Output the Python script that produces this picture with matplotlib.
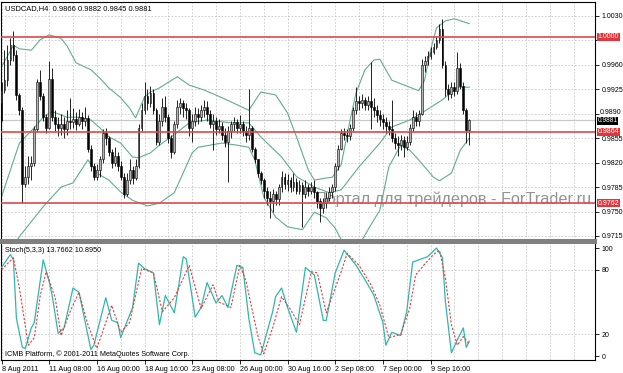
import numpy as np
import matplotlib
matplotlib.use("Agg")
import matplotlib.pyplot as plt
from matplotlib.transforms import offset_copy

plt.rcParams["font.family"] = ["Liberation Sans", "DejaVu Sans"]

# USDCAD H4 candles (close / high / low); open of each bar is previous close
first_open = 0.9905
close = [
    0.9924, 0.9938, 0.9967, 0.9988, 0.9974, 0.9917, 0.9895, 0.9790, 0.9800, 0.9815,
    0.9820, 0.9868, 0.9935, 0.9915, 0.9885, 0.9870, 0.9940, 0.9885, 0.9875, 0.9870,
    0.9875, 0.9868, 0.9880, 0.9878, 0.9882, 0.9876, 0.9885, 0.9880, 0.9884, 0.9840,
    0.9815, 0.9800, 0.9810, 0.9825, 0.9862, 0.9855, 0.9835, 0.9820, 0.9830, 0.9815,
    0.9800, 0.9775, 0.9795, 0.9810, 0.9798, 0.9815, 0.9870, 0.9895, 0.9915, 0.9905,
    0.9920, 0.9895, 0.9850, 0.9880, 0.9900, 0.9885, 0.9855, 0.9835, 0.9875, 0.9900,
    0.9905, 0.9898, 0.9895, 0.9870, 0.9880, 0.9890, 0.9885, 0.9895, 0.9900, 0.9890,
    0.9875, 0.9880, 0.9868, 0.9872, 0.9860, 0.9850, 0.9865, 0.9875, 0.9878, 0.9870,
    0.9875, 0.9865, 0.9860, 0.9870, 0.9840, 0.9825, 0.9805, 0.9795, 0.9780, 0.9770,
    0.9765, 0.9775, 0.9768, 0.9785, 0.9800, 0.9790, 0.9795, 0.9785, 0.9792, 0.9780,
    0.9788, 0.9775, 0.9785, 0.9780, 0.9785, 0.9778, 0.9765, 0.9755, 0.9762, 0.9770,
    0.9778, 0.9785, 0.9815, 0.9840, 0.9862, 0.9860, 0.9858, 0.9870, 0.9895, 0.9908,
    0.9905, 0.9910, 0.9902, 0.9908, 0.9900, 0.9895, 0.9888, 0.9882, 0.9878, 0.9872,
    0.9868, 0.9855, 0.9848, 0.9845, 0.9852, 0.9842, 0.9850, 0.9870, 0.9885, 0.9880,
    0.9890, 0.9960, 0.9965, 0.9972, 0.9978, 0.9985, 0.9995, 1.0012, 0.9960, 0.9925,
    0.9918, 0.9928, 0.9922, 0.9955, 0.9930, 0.9895, 0.9866, 0.9881,
]
high = [
    0.9935, 0.9981, 0.9988, 0.9998, 1.0008, 0.9981, 0.9920, 0.9900, 0.9815, 0.9830,
    0.9830, 0.9872, 0.9940, 0.9952, 0.9920, 0.9890, 0.9966, 0.9955, 0.9895, 0.9885,
    0.9890, 0.9885, 0.9895, 0.9912, 0.9898, 0.9892, 0.9897, 0.9893, 0.9900, 0.9888,
    0.9845, 0.9820, 0.9818, 0.9830, 0.9868, 0.9870, 0.9858, 0.9840, 0.9842, 0.9835,
    0.9822, 0.9805, 0.9805, 0.9825, 0.9815, 0.9825, 0.9875, 0.9905, 0.9935, 0.9925,
    0.9930, 0.9925, 0.9898, 0.9890, 0.9912, 0.9915, 0.9890, 0.9860, 0.9880, 0.9910,
    0.9912, 0.9910, 0.9905, 0.9898, 0.9890, 0.9900, 0.9898, 0.9902, 0.9910, 0.9908,
    0.9895, 0.9890, 0.9885, 0.9882, 0.9878, 0.9870, 0.9872, 0.9880, 0.9885, 0.9882,
    0.9888, 0.9880, 0.9872, 0.9925, 0.9872, 0.9842, 0.9825, 0.9808, 0.9798, 0.9785,
    0.9780, 0.9782, 0.9780, 0.9790, 0.9808, 0.9805, 0.9803, 0.9800, 0.9805, 0.9798,
    0.9795, 0.9792, 0.9795, 0.9790, 0.9792, 0.9795, 0.9780, 0.9770, 0.9770, 0.9778,
    0.9785, 0.9790, 0.9820, 0.9845, 0.9868, 0.9870, 0.9868, 0.9875, 0.9900, 0.9928,
    0.9915, 0.9918, 0.9914, 0.9916, 0.9964, 0.9912, 0.9902, 0.9895, 0.9890, 0.9885,
    0.9880, 0.9910, 0.9862, 0.9858, 0.9860, 0.9858, 0.9858, 0.9875, 0.9895, 0.9892,
    0.9895, 0.9968, 0.9972, 0.9980, 0.9985, 0.9992, 1.0000, 1.0018, 1.0026, 0.9965,
    0.9932, 0.9935, 0.9935, 0.9978, 0.9962, 0.9935, 0.9898, 0.9882,
]
low = [
    0.9880, 0.9920, 0.9930, 0.9960, 0.9965, 0.9910, 0.9888, 0.9762, 0.9785, 0.9790,
    0.9795, 0.9815, 0.9865, 0.9910, 0.9880, 0.9862, 0.9868, 0.9880, 0.9865, 0.9858,
    0.9860, 0.9855, 0.9860, 0.9868, 0.9870, 0.9866, 0.9872, 0.9868, 0.9873, 0.9835,
    0.9808, 0.9795, 0.9795, 0.9800, 0.9820, 0.9845, 0.9830, 0.9812, 0.9815, 0.9808,
    0.9795, 0.9770, 0.9772, 0.9790, 0.9790, 0.9795, 0.9812, 0.9865, 0.9890, 0.9895,
    0.9900, 0.9890, 0.9845, 0.9845, 0.9872, 0.9878, 0.9848, 0.9826, 0.9832, 0.9870,
    0.9890, 0.9885, 0.9882, 0.9858, 0.9850, 0.9872, 0.9875, 0.9880, 0.9885, 0.9880,
    0.9870, 0.9838, 0.9860, 0.9862, 0.9852, 0.9842, 0.9792, 0.9855, 0.9865, 0.9862,
    0.9862, 0.9858, 0.9850, 0.9852, 0.9835, 0.9820, 0.9800, 0.9790, 0.9770, 0.9760,
    0.9740, 0.9750, 0.9760, 0.9760, 0.9778, 0.9782, 0.9780, 0.9778, 0.9780, 0.9775,
    0.9775, 0.9728, 0.9770, 0.9772, 0.9775, 0.9770, 0.9755, 0.9735, 0.9748, 0.9755,
    0.9765, 0.9770, 0.9780, 0.9810, 0.9838, 0.9852, 0.9850, 0.9852, 0.9865, 0.9890,
    0.9895, 0.9898, 0.9895, 0.9896, 0.9868, 0.9885, 0.9878, 0.9872, 0.9868, 0.9862,
    0.9860, 0.9850, 0.9840, 0.9830, 0.9838, 0.9828, 0.9838, 0.9845, 0.9865, 0.9872,
    0.9872, 0.9888, 0.9950, 0.9960, 0.9968, 0.9975, 0.9982, 0.9992, 0.9955, 0.9915,
    0.9910, 0.9912, 0.9915, 0.9918, 0.9925, 0.9890, 0.9848, 0.9845,
]

# Bollinger bands, read at selected bars
upper_bar = [0, 4, 6, 10, 13, 16, 20, 22, 25, 30, 33, 36, 40, 43, 45, 48, 50, 53, 56, 59,
             63, 68, 74, 79, 83, 87, 92, 96, 99, 103, 105, 109, 111, 114, 117, 119, 122, 125,
             127, 131, 137, 140, 142, 144, 146, 149, 152, 157]
upper_val = [0.9957, 0.9988, 0.9983, 0.9981, 0.9996, 1.0003, 0.9998, 0.9987, 0.9963, 0.9953,
             0.9941, 0.9927, 0.9913, 0.9898, 0.9884, 0.9914, 0.9921, 0.9927, 0.9935, 0.9943,
             0.9931, 0.9924, 0.9913, 0.9903, 0.9895, 0.9921, 0.9917, 0.9891, 0.9857, 0.9809,
             0.9795, 0.9798, 0.9799, 0.9817, 0.9881, 0.9920, 0.9953, 0.9967, 0.9968, 0.9938,
             0.9928, 0.9923, 0.9938, 0.9981, 1.0013, 1.0023, 1.0026, 1.0019]
middle_bar = [0, 6, 11, 14, 17, 22, 26, 30, 33, 36, 40, 44, 46, 50, 53, 58, 63, 69, 77, 83,
              87, 94, 99, 105, 110, 114, 120, 127, 131, 137, 141, 148, 153, 157]
middle_val = [0.9771, 0.9848, 0.9870, 0.9885, 0.9893, 0.9885, 0.9885, 0.9881, 0.9870, 0.9857,
              0.9848, 0.9828, 0.9827, 0.9834, 0.9845, 0.9860, 0.9877, 0.9881, 0.9877, 0.9877,
              0.9857, 0.9828, 0.9800, 0.9785, 0.9777, 0.9781, 0.9814, 0.9848, 0.9871, 0.9881,
              0.9891, 0.9910, 0.9928, 0.9928]
lower_bar = [1, 6, 14, 20, 24, 29, 32, 36, 40, 44, 49, 53, 58, 64, 66, 74, 79, 83, 85, 88,
             92, 96, 101, 105, 109, 112, 115, 118, 121, 124, 127, 130, 134, 137, 140, 145,
             147, 151, 154, 157]
lower_val = [0.9681, 0.9714, 0.9757, 0.9785, 0.9791, 0.9824, 0.9805, 0.9795, 0.9778, 0.9766,
             0.9758, 0.9762, 0.9777, 0.9834, 0.9842, 0.9848, 0.9845, 0.9842, 0.9824, 0.9771,
             0.9742, 0.9728, 0.9724, 0.9749, 0.9741, 0.9726, 0.9702, 0.9688, 0.9709, 0.9731,
             0.9752, 0.9814, 0.9845, 0.9838, 0.9824, 0.9799, 0.9794, 0.9805, 0.9838, 0.9855]

# Stochastic (5,3,3)
k_bar = [0, 3, 4, 5, 7, 8, 10, 11, 14, 16, 17, 19, 21, 24, 26, 30, 31, 35, 37, 39, 40, 42,
         44, 46, 48, 51, 53, 55, 58, 61, 62, 65, 67, 69, 72, 74, 76, 79, 81, 83, 85, 87, 91,
         92, 94, 96, 99, 102, 105, 108, 109, 112, 115, 119, 123, 125, 128, 129, 131, 134,
         136, 138, 140, 143, 146, 148, 149, 151, 153, 155, 156, 157]
k_val = [82, 94, 89, 35, 8, 7, 26, 31, 89, 69, 56, 21, 26, 63, 59, 6, 10, 54, 33, 31, 17, 31,
         45, 86, 81, 77, 29, 56, 40, 92, 90, 36, 45, 68, 49, 56, 45, 84, 82, 35, 3, 1, 41,
         55, 63, 45, 22, 82, 75, 33, 33, 77, 98, 84, 66, 56, 31, 10, 22, 19, 41, 87, 89, 92,
         100, 91, 50, 3, 15, 26, 8, 13.77]
d_bar = [0, 4, 6, 9, 11, 13, 15, 18, 20, 23, 26, 29, 32, 35, 37, 40, 43, 47, 51, 54, 58, 63,
         67, 71, 73, 77, 80, 82, 86, 88, 91, 94, 97, 100, 104, 106, 109, 114, 116, 120, 124,
         127, 130, 134, 137, 139, 142, 145, 147, 149, 151, 153, 155, 157]
d_val = [80, 91, 63, 10, 17, 56, 78, 54, 19, 41, 59, 29, 7, 31, 47, 22, 31, 81, 77, 41, 54,
         84, 44, 66, 50, 45, 84, 70, 19, 2, 26, 55, 43, 29, 78, 77, 40, 78, 95, 84, 66, 47,
         17, 20, 44, 75, 85, 94, 98, 72, 29, 10, 18, 10.9]

levels = [1.0000, 0.9864, 0.9762]
bid = 0.9881
price_ticks = [0.9715, 0.9750, 0.9785, 0.9820, 0.9855, 0.9890, 0.9925, 0.9960, 0.9995, 1.0030]
hidden_ticks = [0.9995]   # covered by the 1.0000 level label in the terminal
nudged_ticks = [0.9890]   # sits right above the bid label
time_labels = ["8 Aug 2011", "11 Aug 08:00", "16 Aug 00:00", "18 Aug 16:00", "23 Aug 08:00",
               "26 Aug 00:00", "30 Aug 16:00", "2 Sep 08:00", "7 Sep 00:00", "9 Sep 16:00"]

W, H = 623, 373


def px_box(x0, y0, x1, y1):
    return [x0 / W, 1 - y1 / H, (x1 - x0) / W, (y1 - y0) / H]


close = np.array(close)
opens = np.r_[first_open, close[:-1]]
high = np.maximum(np.array(high), np.maximum(opens, close))
low = np.minimum(np.array(low), np.minimum(opens, close))
bars = np.arange(len(close))

fig = plt.figure(figsize=(W / 100, H / 100), dpi=100)
ax = fig.add_axes(px_box(1, 2, 595, 240))
ax2 = fig.add_axes(px_box(1, 242, 595, 360), sharex=ax)

grid_kw = dict(color="#c6c6c6", linestyle=(0, (2, 2)), linewidth=0.6)
tick_kw = dict(direction="out", length=3, width=0.6, colors="black", labelsize=5.0, pad=1.5)

# main panel
up = close >= opens
body_lo = np.minimum(opens, close)
body_h = np.maximum(np.abs(close - opens), 0.00006)
ax.vlines(bars, low, high, color="black", linewidth=0.6, zorder=3)
ax.bar(bars, body_h, bottom=body_lo, width=0.62, color=np.where(up, "#b4b4b4", "black"),
       edgecolor="black", linewidth=0.4, zorder=4)

band_color = "#62ad8c"
ax.plot(upper_bar, upper_val, color=band_color, linewidth=0.8, zorder=2)
ax.plot(middle_bar, middle_val, color=band_color, linewidth=0.8, zorder=2)
ax.plot(lower_bar, lower_val, color=band_color, linewidth=0.8, zorder=2)

ax.axhline(bid, color="#c8c8c8", linewidth=0.9, zorder=1)
for lv in levels:
    ax.axhline(lv, color="#e2474b", linewidth=1.2, zorder=5)

ax.text(314 / 594, 1 - 202 / 238, "Портал для трейдеров - ForTrader.ru",
        transform=ax.transAxes, fontsize=11.7, color="#939393", va="baseline", zorder=0.5)

ax.set_xlim(-0.17, 199.2)
ax.set_ylim(0.97092, 1.00500)
ax.yaxis.tick_right()
ax.set_yticks(price_ticks)
ax.set_yticklabels(["" if t in hidden_ticks + nudged_ticks else f"{t:.4f}" for t in price_ticks])
ax.tick_params(axis="y", **tick_kw)
ax.tick_params(axis="x", which="both", length=0, labelbottom=False)
ax.set_xticks(np.arange(0, 145, 16))
ax.set_xticks(np.arange(8, 200, 8), minor=True)
ax.grid(True, which="both", **grid_kw)
ax.set_axisbelow(True)

ytrans = ax.get_yaxis_transform()
for t in nudged_ticks:
    ax.text(1.0, t, f"{t:.4f}", transform=offset_copy(ytrans, fig=fig, x=4.5, y=1.6, units="dots"),
            fontsize=5.0, va="center", ha="left", clip_on=False)

ax.text(4 / 594, 1 - 7 / 238, "USDCAD,H4  0.9866 0.9882 0.9845 0.9881", transform=ax.transAxes,
        fontsize=5.4, va="center", ha="left")

for lv in levels:
    ax.text(1.004, lv, f"{lv:.4f}", transform=ytrans, fontsize=5.0,
            color="white", va="center", ha="left", zorder=10, clip_on=False,
            bbox=dict(boxstyle="square,pad=0.12", fc="#e2363c", ec="none"))
ax.text(1.004, bid, f"{bid:.4f}", transform=offset_copy(ytrans, fig=fig, y=-0.8, units="dots"),
        fontsize=4.8, color="white", va="center", ha="left", zorder=10, clip_on=False,
        bbox=dict(boxstyle="square,pad=0.05", fc="black", ec="none"))

# stochastic panel
ax2.plot(k_bar, k_val, color="#2fb7ad", linewidth=0.9, zorder=3)
ax2.plot(d_bar, d_val, color="#e0403a", linewidth=0.8, linestyle=(0, (2, 1.5)), zorder=3)
for lv in (20, 80):
    ax2.axhline(lv, zorder=1, **grid_kw)
ax2.set_ylim(-3.7, 105.6)
ax2.yaxis.tick_right()
ax2.set_yticks([0, 20, 80, 100])
ax2.tick_params(axis="y", **tick_kw)
ax2.set_xticks(np.arange(0, 145, 16))
ax2.set_xticklabels(time_labels, ha="left")
ax2.set_xticks(np.arange(8, 200, 8), minor=True)
ax2.tick_params(axis="x", which="major", **dict(tick_kw, labelsize=5.2))
ax2.tick_params(axis="x", which="minor", length=0)
ax2.xaxis.grid(True, which="both", **grid_kw)
ax2.set_axisbelow(True)

ax2.text(4 / 594, 1 - 8 / 118, "Stoch(5,3,3) 13.7662 10.8950", transform=ax2.transAxes,
         fontsize=5.2, va="center", ha="left")
ax2.text(4 / 594, 1 - 112 / 118, "ICMB Platform, © 2001-2011 MetaQuotes Software Corp.",
         transform=ax2.transAxes, fontsize=5.2, va="center", ha="left")

for a in (ax, ax2):
    for s in a.spines.values():
        s.set_color("black")
        s.set_linewidth(0.8)
ax.spines["bottom"].set_color("#808080")
ax.spines["bottom"].set_linewidth(2.2)
ax2.spines["top"].set_color("#808080")
ax2.spines["top"].set_linewidth(2.2)

fig.savefig("out.png", dpi=100, facecolor="white")
